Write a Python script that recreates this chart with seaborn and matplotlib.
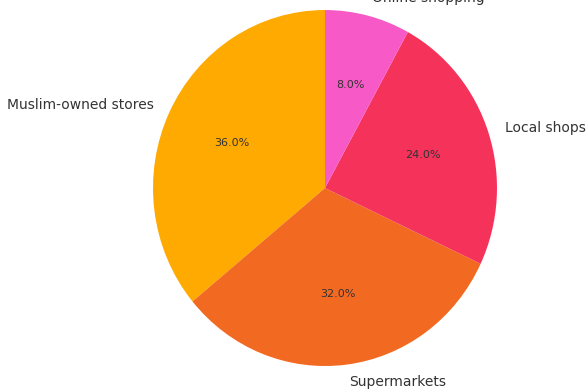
import matplotlib
matplotlib.use("Agg")
import matplotlib.pyplot as plt
import seaborn as sns

# Where shoppers buy their groceries (share of respondents)
categories = ["Muslim-owned stores", "Supermarkets", "Local shops", "Online shopping"]
shares = [36, 32, 24, 8]
colors = ["#FFAA00", "#F26A21", "#F5325A", "#F75AC6"]

sns.set_theme(style="white")
plt.rcParams["font.family"] = ["DejaVu Sans"]

fig = plt.figure(figsize=(5.87, 3.90), dpi=100)
ax = fig.add_axes([0.1874, -0.0526, 0.7325, 1.141])

wedges, texts, autotexts = ax.pie(
    shares,
    labels=categories,
    colors=colors,
    autopct="%1.1f%%",
    startangle=90,
    wedgeprops={"linewidth": 0},
    textprops={"color": "#333333", "fontsize": 10},
)
for t in autotexts:
    t.set_fontsize(8)
ax.set_aspect("auto")

fig.savefig("out.png", dpi=100)
